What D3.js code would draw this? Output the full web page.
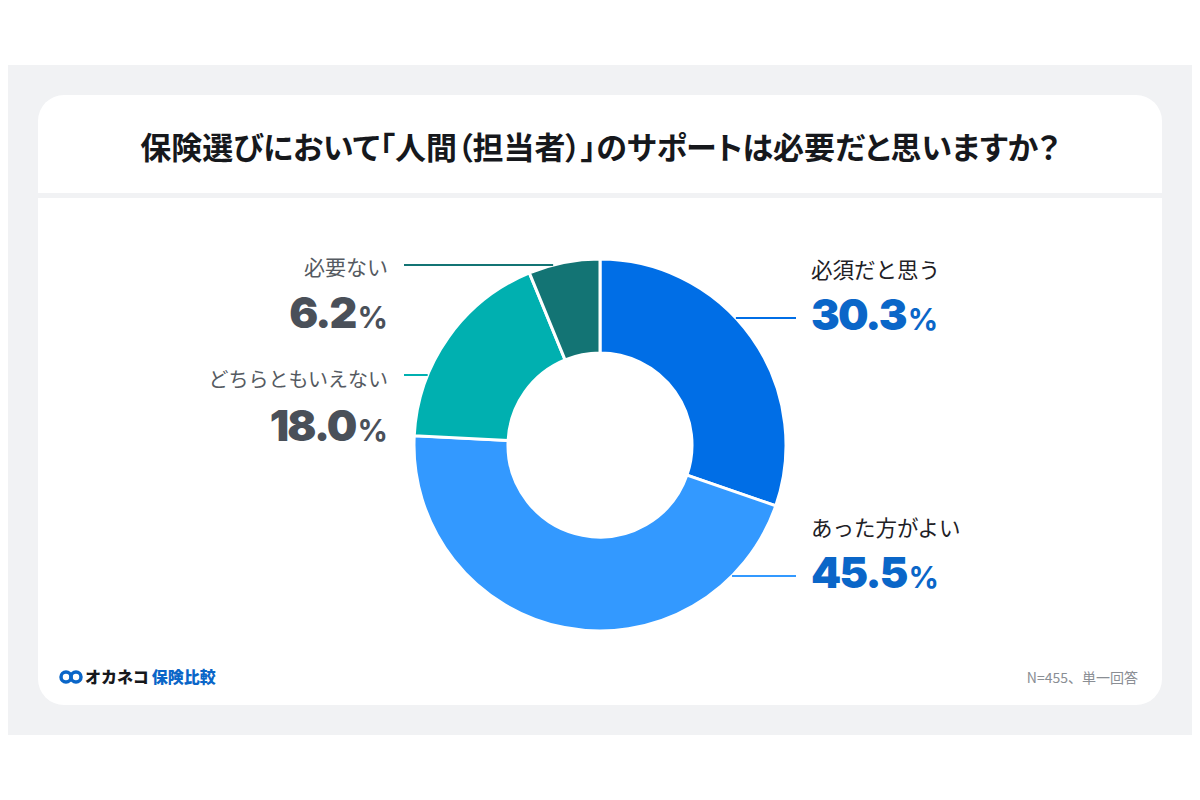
<!DOCTYPE html>
<html><head><meta charset="utf-8">
<script src="https://cdn.jsdelivr.net/npm/d3@7"></script>
<style>html,body{margin:0;padding:0;background:#fff;}svg{display:block;}</style>
</head><body>
<svg id="c" width="1200" height="800"></svg>
<script>
const categories = ["必須だと思う", "あった方がよい", "どちらともいえない", "必要ない"];
const values = [30.3, 45.5, 18.0, 6.2];
const colors = ["#006EE6", "#3399FF", "#00B0B0", "#137474"];
const title = "保険選びにおいて「人間（担当者）」のサポートは必要だと思いますか？";
const note = "N=455、単一回答";

const svg = d3.select("#c");
const JP = "'Noto Sans CJK JP','Noto Sans',sans-serif";
const NUM = "Inter,Lato,'Noto Sans',sans-serif";

// backgrounds
svg.append("rect").attr("x",8).attr("y",65).attr("width",1184).attr("height",670).attr("fill","#F1F2F4");
svg.append("rect").attr("x",38).attr("y",95).attr("width",1124).attr("height",610).attr("rx",26).attr("fill","#fff");
svg.append("rect").attr("x",38).attr("y",193).attr("width",1124).attr("height",5).attr("fill","#F1F2F4");

const tt = svg.append("text").attr("x",600).attr("y",159).attr("text-anchor","middle")
  .attr("font-family",JP).attr("font-weight",700).attr("font-size",30)
  .style("font-feature-settings","'palt' 1")
  .attr("fill","#16181C").text(title);
const tw = tt.node().getComputedTextLength();
tt.attr("font-size", Math.min(31, 30*920/tw));

const cx = 600, cy = 445, R = 186, r = 92;
const pie = d3.pie().sort(null).value(d=>d);
const arc = d3.arc().innerRadius(r).outerRadius(R);
const g = svg.append("g").attr("transform",`translate(${cx},${cy})`);

const labelY = [318, 576, 375, 265];
const side = [1, 1, -1, -1];
const numColor = ["#0A66C8", "#0A66C8", "#4A5059", "#4A5059"];
const catColor = ["#1E2126", "#1E2126", "#555A61", "#555A61"];

labelY.forEach((y,i)=>{
  const dy = y - cy;
  const dx = Math.sqrt(R*R - dy*dy);
  const x0 = cx + side[i]*dx;
  const x1 = side[i] > 0 ? 796 : 404;
  svg.append("line").attr("x1",x0).attr("x2",x1).attr("y1",y).attr("y2",y)
    .attr("stroke",colors[i]).attr("stroke-width",2);
});

g.selectAll("path").data(pie(values)).join("path")
  .attr("d",arc).attr("fill",(d,i)=>colors[i]).attr("stroke","#fff").attr("stroke-width",3);

const catY = [278, 536, 387, 275];
const numY = [330, 588, 441, 328];
const catSize = [21.5, 21.5, 20, 21];
values.forEach((v,i)=>{
  const x = side[i] > 0 ? 811 : 388;
  const anchor = side[i] > 0 ? "start" : "end";
  svg.append("text").attr("x",x).attr("y",catY[i]).attr("text-anchor",anchor)
    .attr("font-family",JP).attr("font-size",catSize[i]).attr("fill",catColor[i]).text(categories[i]);
  const t = svg.append("text").attr("x",x).attr("y",numY[i]).attr("text-anchor",anchor)
    .attr("font-family",NUM).attr("fill",numColor[i]);
  t.append("tspan").attr("font-size",43).attr("font-weight",900).attr("letter-spacing",-1.8).text(v.toFixed(1));
  t.append("tspan").attr("font-size",30).attr("font-weight",700).attr("dx",2).text("%");
});

// footer logo
const lg = svg.append("g").attr("transform","translate(60,677)");
lg.append("circle").attr("cx",6).attr("cy",0).attr("r",5).attr("fill","none").attr("stroke","#0A66C8").attr("stroke-width",3.5);
lg.append("circle").attr("cx",16).attr("cy",0).attr("r",5).attr("fill","none").attr("stroke","#0A66C8").attr("stroke-width",3.5);
const lt = lg.append("text").attr("x",25).attr("y",6).attr("font-family",JP).attr("font-weight",900).attr("font-size",16);
lt.append("tspan").attr("fill","#16181C").text("オカネコ");
lt.append("tspan").attr("fill","#0A66C8").attr("dx",3).text("保険比較");

svg.append("text").attr("x",1138).attr("y",683).attr("text-anchor","end")
  .attr("font-family",JP).attr("font-size",14).attr("fill","#8A8E94").text(note);
</script>
</body></html>
